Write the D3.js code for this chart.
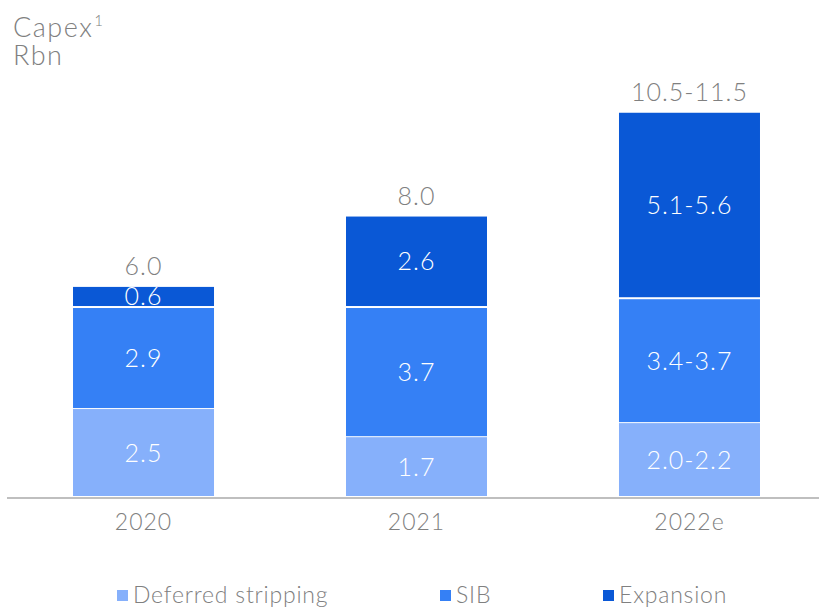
<!DOCTYPE html>
<html>
<head>
<meta charset="utf-8">
<script src="https://cdn.jsdelivr.net/npm/d3@7"></script>
<style>
  html, body { margin: 0; padding: 0; background: #fff; }
  svg text { font-family: Lato, "Open Sans", sans-serif; font-weight: 300; }
</style>
</head>
<body>
<svg id="chart" width="819" height="609"></svg>
<script>
/* ---------- data ---------- */
const years     = ['2020', '2021', '2022e'];
const deferred  = [2.5, 1.7, 2.1];
const sib       = [2.9, 3.7, 3.55];
const expansion = [0.6, 2.6, 5.3];
const deferredLbl  = ['2.5', '1.7', '2.0-2.2'];
const sibLbl       = ['2.9', '3.7', '3.4-3.7'];
const expansionLbl = ['0.6', '2.6', '5.1-5.6'];
const totalLbl     = ['6.0', '8.0', '10.5-11.5'];
const seriesNames  = ['Deferred stripping', 'SIB', 'Expansion'];
const colours      = ['#86b0fb', '#3580f5', '#0a58d6'];

/* ---------- setup ---------- */
const svg = d3.select('#chart');
const base = 497;

const x = d3.scaleBand().domain(years)
  .range([10.5, 822.5]).paddingInner(0.4835).paddingOuter(0.229);
const y = d3.scaleLinear().domain([0, 11]).range([base, 110]);

const rows = years.map((yr, i) => ({
  year: yr,
  vals: [deferred[i], sib[i], expansion[i]],
  lbls: [deferredLbl[i], sibLbl[i], expansionLbl[i]],
  total: totalLbl[i]
}));

const stacked = rows.flatMap(r => {
  let acc = 0;
  return r.vals.map((v, k) => {
    const s = { year: r.year, k, y0: acc, y1: acc + v, lbl: r.lbls[k] };
    acc += v;
    return s;
  });
});

/* ---------- bars ---------- */
svg.append('g').selectAll('rect')
  .data(stacked)
  .enter().append('rect')
    .attr('x', d => x(d.year))
    .attr('width', x.bandwidth())
    .attr('y', d => y(d.y1) + (d.k > 0 ? 1 : 0))
    .attr('height', d => y(d.y0) - y(d.y1) - (d.k > 0 ? 2 : 1))
    .attr('fill', d => colours[d.k]);

svg.append('g').selectAll('text')
  .data(stacked)
  .enter().append('text')
    .attr('x', d => x(d.year) + x.bandwidth() / 2)
    .attr('y', d => (y(d.y0) + y(d.y1)) / 2)
    .attr('dy', '0.36em')
    .attr('text-anchor', 'middle')
    .attr('fill', '#fff')
    .style('font-size', '25px')
    .style('letter-spacing', '1px')
    .text(d => d.lbl);

/* totals */
svg.append('g').selectAll('text')
  .data(rows)
  .enter().append('text')
    .attr('x', d => x(d.year) + x.bandwidth() / 2)
    .attr('y', d => y(d3.sum(d.vals)) - 11)
    .attr('text-anchor', 'middle')
    .attr('fill', '#808080')
    .style('font-size', '25px')
    .style('letter-spacing', '1px')
    .text(d => d.total);

/* ---------- axis ---------- */
svg.append('line')
  .attr('x1', 7).attr('x2', 819)
  .attr('y1', base + 1).attr('y2', base + 1)
  .attr('stroke', '#bfbfbf').attr('stroke-width', 2);

svg.append('g').selectAll('text')
  .data(years)
  .enter().append('text')
    .attr('x', d => x(d) + x.bandwidth() / 2)
    .attr('y', 530)
    .attr('text-anchor', 'middle')
    .attr('fill', '#808080')
    .style('font-size', '23px')
    .style('letter-spacing', '1px')
    .text(d => d);

/* ---------- title ---------- */
const title = svg.append('text')
  .attr('x', 13).attr('y', 37)
  .attr('fill', '#808080')
  .style('font-size', '27px')
  .style('letter-spacing', '1.5px');
title.append('tspan').text('Capex');
title.append('tspan').attr('dx', 1).attr('dy', -11).style('font-size', '15px').text('1');
svg.append('text')
  .attr('x', 13).attr('y', 65)
  .attr('fill', '#808080')
  .style('font-size', '27px')
  .style('letter-spacing', '1.5px')
  .text('Rbn');

/* ---------- legend ---------- */
const legX = [117, 440, 603];
const leg = svg.append('g').selectAll('g')
  .data(seriesNames)
  .enter().append('g')
    .attr('transform', (d, i) => `translate(${legX[i]},590)`);
leg.append('rect')
  .attr('width', 11).attr('height', 11)
  .attr('fill', (d, i) => colours[i]);
leg.append('text')
  .attr('x', 16).attr('y', 13)
  .attr('fill', '#808080')
  .style('font-size', '23px')
  .style('letter-spacing', '0.8px')
  .text(d => d);
</script>
</body>
</html>
